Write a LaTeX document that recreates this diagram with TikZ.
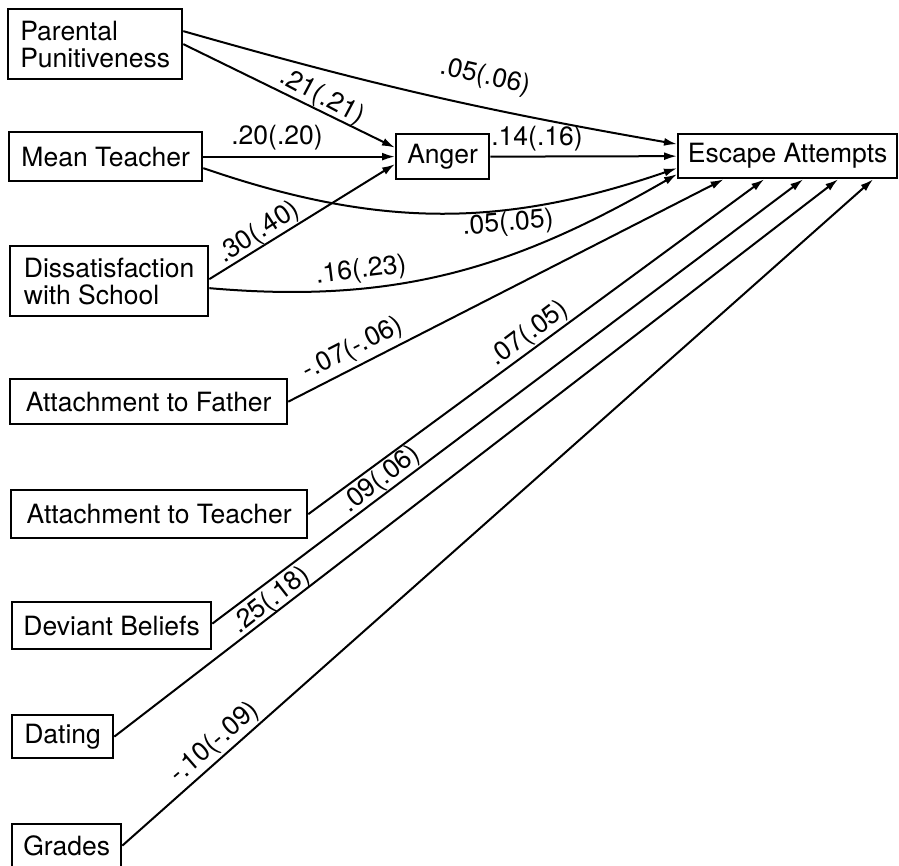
\documentclass[tikz,border=0pt]{standalone}
\usepackage{fontspec}
\setmainfont{TeX Gyre Heros}
\usetikzlibrary{arrows.meta}
\begin{document}
\begin{tikzpicture}[x=1pt,y=1pt,
  box/.style={draw, line width=2.3pt, anchor=north west, inner sep=0pt,
    font=\fontsize{26.5}{27}\selectfont, align=left},
  lab/.style={font=\fontsize{26.5}{27}\selectfont, inner sep=0pt},
  conn/.style={line width=2pt, -{Latex[length=13pt,width=8pt]}}]
\useasboundingbox (0,0) rectangle (899,-866);
% boxes
\node[box, minimum width=174pt, minimum height=70pt] (par) at (7,-8) {Parental\\Punitiveness};
\node[box, minimum width=193pt, minimum height=49pt] (mt) at (8,-131) {Mean Teacher};
\node[box, minimum width=198pt, minimum height=70pt] (dis) at (9,-245) {Dissatisfaction\\with School};
\node[box, minimum width=93pt, minimum height=45pt] (ang) at (395,-133) {Anger};
\node[box, minimum width=219pt, minimum height=44pt] (esc) at (677,-133) {Escape Attempts};
\node[box, minimum width=277pt, minimum height=45pt] (fat) at (9,-378) {Attachment to Father};
\node[box, minimum width=296pt, minimum height=48pt] (tea) at (10,-489) {Attachment to Teacher};
\node[box, minimum width=199pt, minimum height=47pt] (dev) at (11,-601) {Deviant Beliefs};
\node[box, minimum width=101pt, minimum height=43pt] (dat) at (11,-714) {Dating};
\node[box, minimum width=109pt, minimum height=43pt] (gra) at (11,-823) {Grades};
% connectors
\draw[conn] ([yshift=13pt]par.east) to[bend right=3] ([yshift=12pt]esc.west);
\draw[conn] (par.east) -- ([yshift=9pt]ang.west);
\draw[conn] (mt.east) -- (ang.west);
\draw[conn] (ang.east) -- (esc.west);
\draw[conn] ([yshift=-11.5pt]mt.east) to[out=-19,in=199] ([yshift=-12pt]esc.west);
\draw[conn] ([yshift=2pt]dis.east) -- ([yshift=-7.5pt]ang.west);
\draw[conn] ([yshift=-7pt]dis.east) to[out=-5,in=210] ([yshift=-18pt]esc.west);
\draw[conn] (fat.east) -- ([xshift=-64pt]esc.south);
\draw[conn] (tea.east) -- ([xshift=-23.5pt]esc.south);
\draw[conn] ([yshift=2pt]dev.east) -- ([xshift=15.5pt]esc.south);
\draw[conn] (dat.east) -- ([xshift=50.5pt]esc.south);
\draw[conn] (gra.east) -- ([xshift=85.5pt]esc.south);
% labels
\node[lab, rotate=-13] (l1) at (485,-77) {.05(.06)};
\node[lab, rotate=-28] (l2) at (322,-97) {.21(.21)};
\node[lab] (l3) at (277,-138) {.20(.20)};
\node[lab] (l4) at (537,-139) {.14(.16)};
\node[lab, rotate=5] (l5) at (508,-224) {.05(.05)};
\node[lab, rotate=33] (l6) at (259,-233) {.30(.40)};
\node[lab, rotate=7] (l7) at (361,-271) {.16(.23)};
\node[lab, rotate=27] (l8) at (353,-349) {-.07(-.06)};
\node[lab, rotate=37] (l9) at (529,-334) {.07(.05)};
\node[lab, rotate=38] (l10) at (381,-480) {.09(.06)};
\node[lab, rotate=38] (l11) at (271,-601) {.25(.18)};
\node[lab, rotate=41] (l12) at (215,-743) {-.10(-.09)};
\end{tikzpicture}
\end{document}
